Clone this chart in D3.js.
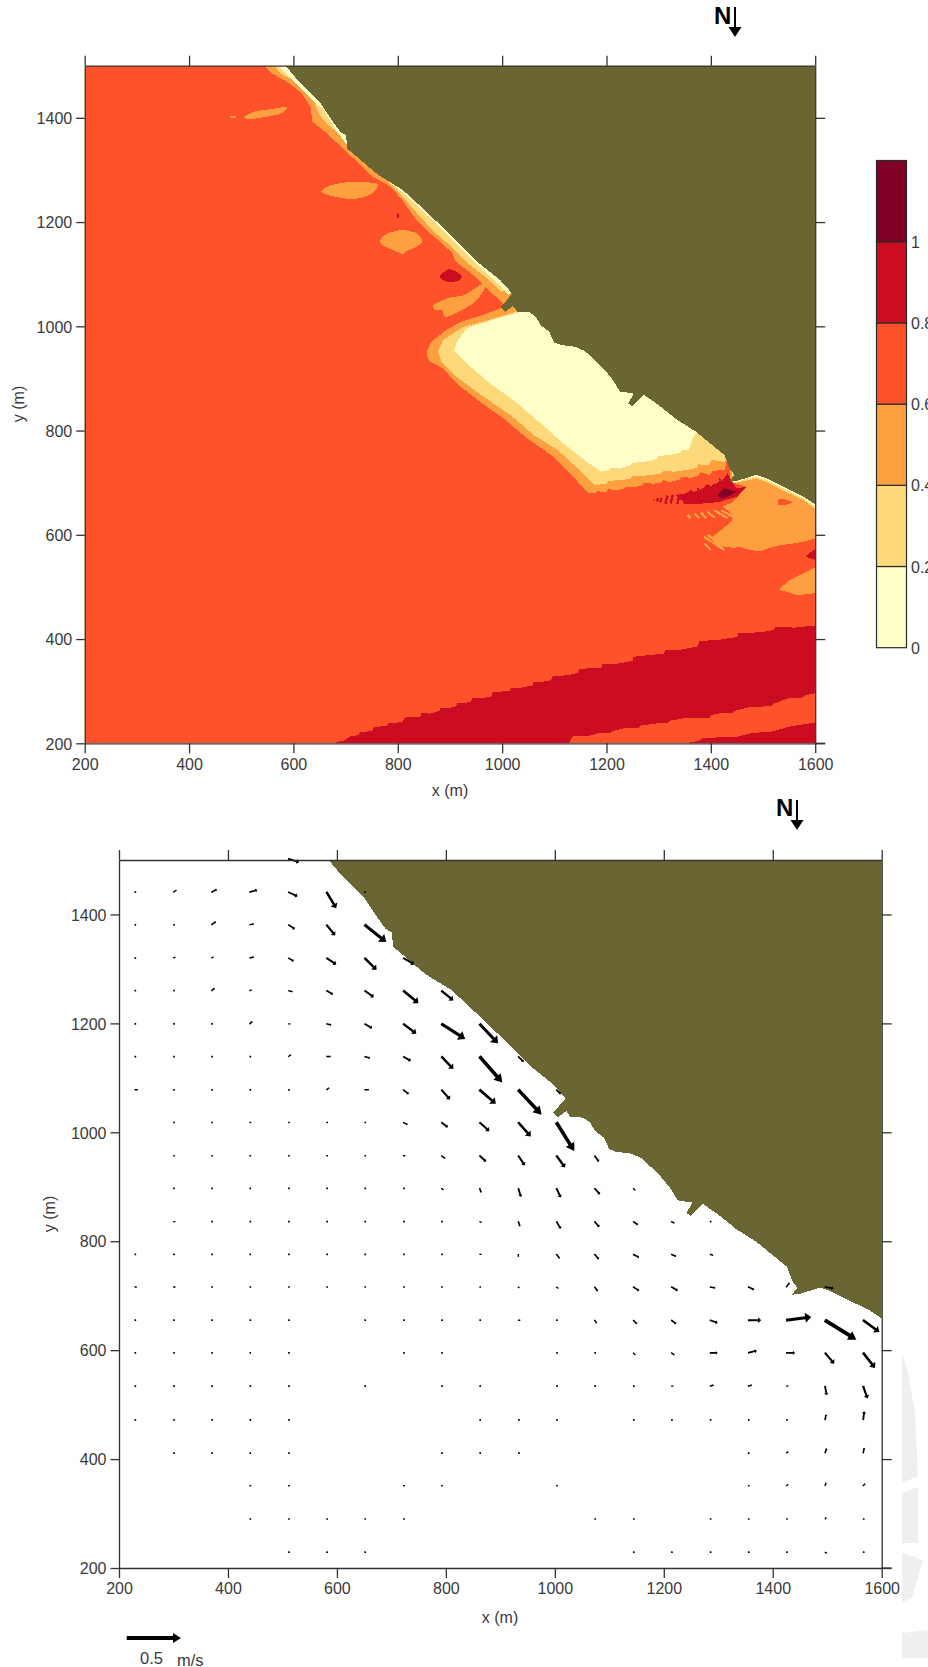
<!DOCTYPE html>
<html><head><meta charset="utf-8">
<script src="https://cdn.jsdelivr.net/npm/d3@7"></script>
<style>
html,body{margin:0;padding:0;background:#fff;overflow:hidden}
svg{display:block}
text{font-family:"Liberation Sans",Arial,sans-serif;fill:#3a3a3a}
.axis path,.axis line{stroke:#333;stroke-width:1.3}
.axis text{font-size:16px;font-family:"Liberation Sans",Arial,sans-serif;fill:#3a3a3a}
</style></head><body>
<svg id="c" width="928" height="1667"></svg>
<script>
// ---------- axis values
const xTicks=[200,400,600,800,1000,1200,1400,1600];
const yTicks=[200,400,600,800,1000,1200,1400];
const xDomain=[200,1600], yDomain=[200,1500];
// ---------- legend
const legendBreaks=[0,0.2,0.4,0.6,0.8,1,1.2];
const legendLabels=["0","0.2","0.4","0.6","0.8","1"];
const bandColors=["#FFFFC8","#FED97C","#FE9F40","#FE532A","#CC0D21","#800026"];
const landColor="#6A6633";
// ---------- coastline (x m, y m)
const land=[[585,1500],[605,1476],[627,1453],[650,1431],[673,1396],[690,1373],[701,1367],[703,1341],[729,1319],[763,1290],[809,1262],[831,1242],[865,1210],[911,1166],[956,1121],[996,1089],[1019,1063],[1018,1060],[997,1036],[1006,1028],[1021,1039],[1029,1028],[1052,1027],[1065,1018],[1074,1002],[1090,990],[1100,969],[1113,964],[1139,961],[1158,953],[1178,935],[1194,919],[1210,900],[1226,875],[1252,871],[1242,852],[1249,846],[1271,869],[1300,849],[1332,823],[1371,798],[1403,772],[1426,753],[1436,727],[1445,715],[1436,702],[1449,703],[1487,715],[1507,708],[1545,689],[1578,673],[1597,660],[1600,658],[1600,1500]];
// ---------- wave height contours
const shoreOrange=[[545,1500],[559,1485],[593,1466],[616,1447],[633,1421],[636,1393],[661,1373],[695,1341],[729,1309],[752,1287],[786,1268],[809,1242],[831,1210],[854,1185],[882,1162],[905,1140],[911,1124],[945,1098],[968,1076],[1003,1042],[1030,1080],[700,1500]];
const shoreLight=[[563,1500],[576,1485],[616,1463],[639,1434],[650,1405],[667,1386],[701,1357],[720,1345],[760,1300],[809,1249],[837,1217],[866,1185],[899,1156],[934,1121],[968,1095],[999,1066],[1030,1080],[700,1500]];
const shorePale=[[571,1500],[600,1470],[640,1430],[656,1418],[684,1373],[701,1350],[760,1300],[826,1242],[866,1204],[911,1159],[956,1114],[985,1089],[1013,1060],[1030,1080],[700,1500]];
const bayOrange=[[1000,1036],[964,1022],[922,1009],[893,993],[864,970],[855,951],[858,935],[887,919],[913,890],[958,855],[1003,823],[1048,785],[1094,753],[1139,708],[1165,680],[1180,681],[1183,685],[1190,682],[1200,683],[1204,688],[1215,685],[1232,688],[1236,692],[1255,692],[1268,695],[1272,700],[1290,698],[1305,700],[1309,705],[1320,701],[1340,706],[1344,712],[1362,709],[1376,714],[1380,720],[1398,715],[1404,723],[1426,724],[1445,800],[1100,1060],[1040,1060]];
const bayLight=[[1026,1028],[977,1013],[926,999],[887,974],[877,951],[884,932],[913,903],[964,865],[1016,830],[1061,791],[1106,763],[1152,721],[1177,695],[1200,698],[1204,703],[1223,705],[1245,707],[1249,713],[1270,713],[1287,715],[1305,717],[1309,723],[1330,721],[1352,724],[1372,728],[1376,735],[1397,734],[1402,744],[1426,740],[1460,800],[1100,1060],[1040,1060]];
const bayPale=[[1034,1027],[990,1015],[932,996],[913,970],[908,954],[932,929],[977,890],[1026,855],[1074,814],[1113,779],[1158,743],[1190,721],[1205,724],[1209,729],[1223,727],[1245,733],[1249,738],[1274,740],[1295,745],[1299,751],[1320,753],[1340,757],[1344,763],[1358,763],[1365,785],[1374,798],[1400,840],[1100,1060],[1040,1060]];
const eastOrange=[[1436,702],[1468,692],[1442,663],[1423,654],[1445,636],[1439,625],[1403,596],[1426,577],[1445,575],[1455,577],[1475,571],[1494,568],[1512,575],[1533,580],[1556,583],[1578,587],[1600,593],[1600,800],[1440,800]];
const eastLight=[[1440,698],[1487,708],[1507,701],[1545,682],[1578,666],[1600,650],[1600,800],[1440,800]];
const eastPale=[[1445,701],[1487,712],[1507,705],[1545,686],[1578,670],[1600,654],[1600,800],[1445,800]];
const orangePatchA=[[506,1402],[525,1412],[559,1417],[588,1421],[576,1408],[542,1401],[514,1397]];
const orangePatchB=[[480,1404],[490,1404],[490,1400],[480,1400]];
const orangePatchC=[[652,1258],[673,1271],[712,1277],[763,1273],[746,1252],[712,1244],[678,1249]];
const orangePatchD=[[767,1166],[780,1178],[809,1185],[837,1178],[848,1162],[831,1150],[820,1146],[809,1139],[792,1146],[769,1156]];
const orangePatchE=[[869,1041],[899,1055],[928,1060],[962,1082],[967,1073],[945,1044],[894,1018],[885,1031],[871,1031]];
const orangePatchF=[[1529,494],[1551,513],[1597,536],[1600,536],[1600,488],[1565,484],[1546,491]];
const baseSpot=[[1529,667],[1540,668],[1556,663],[1545,658],[1530,657]];
const redSpotA=[[880,1095],[899,1110],[922,1098],[916,1087],[894,1086]];
const redSpotB=[[798,1217],[802,1215],[803,1207],[799,1209]];
const redSpotC=[[1581,558],[1597,571],[1600,571],[1600,552]];
const groyneRed=[[1332,676],[1352,679],[1362,686],[1368,682],[1384,689],[1394,697],[1400,693],[1423,705],[1432,718],[1439,705],[1449,689],[1468,692],[1449,673],[1416,663],[1384,660],[1352,659]];
const groyneDark=[[1413,676],[1426,689],[1449,683],[1433,673],[1420,670]];
const redStripes=[[1290,666,1291,668],[1297,664,1299,670],[1303,662,1306,671],[1313,660,1317,675],[1323,660,1327,676],[1336,659,1340,678],[1349,660,1352,680],[1358,660,1362,686],[1372,660,1376,690],[1386,662,1392,696],[1400,664,1406,698],[1412,668,1418,708]];
const orangeStripes=[[1355,638,1361,632],[1368,641,1378,632],[1381,643,1391,632],[1394,644,1407,633],[1407,647,1432,632],[1420,647,1452,630],[1387,596,1426,571],[1394,600,1423,577],[1387,584,1400,571]];
const redBand=[[677,200],[690,204],[695,204],[709,213],[725,216],[727,221],[738,222],[752,225],[754,232],[764,232],[780,234],[782,239],[793,238],[810,242],[812,249],[825,251],[843,251],[845,258],[861,257],[880,262],[882,268],[896,267],[912,271],[914,277],[922,277],[940,279],[942,286],[961,286],[980,290],[982,298],[996,299],[1015,301],[1017,307],[1038,307],[1058,311],[1060,318],[1077,318],[1094,321],[1096,328],[1128,331],[1145,335],[1148,343],[1174,344],[1190,344],[1192,352],[1222,353],[1250,358],[1252,366],[1280,369],[1310,372],[1312,378],[1341,379],[1375,386],[1378,396],[1419,399],[1450,404],[1453,411],[1493,413],[1520,417],[1523,423],[1561,422],[1600,426],[1600,296],[1580,292],[1576,288],[1548,286],[1520,276],[1516,271],[1477,270],[1445,262],[1442,258],[1412,257],[1400,253],[1397,248],[1348,248],[1320,243],[1318,238],[1296,238],[1265,234],[1262,229],[1235,229],[1210,223],[1208,219],[1183,219],[1165,214],[1135,213],[1128,200]];
const redBandLow=[[1354,200],[1380,206],[1385,210],[1451,213],[1480,220],[1516,222],[1550,232],[1600,240],[1600,200]];
// ---------- current vectors: rows of [column index, u, v] in cm/s
const vectorColumns=[229,300,370,440,511,581,651,722,792,862,933,1003,1073,1144,1214,1285,1355,1425,1496,1566];
const d=0.5;
const vectorRowY=[1502,1441,1381,1320,1260,1199,1139,1078,1018,957,897,836,776,716,655,595,534,472,411,351,290,229];
const row1502=[[4,10,-3]];
const row1441=[[0,d,0],[1,3,2],[2,5,2.5],[3,7,2],[4,8.5,-4],[5,9,-15],[6,d,0]];
const row1381=[[0,d,0],[1,1,0],[2,4,3],[3,4,1],[4,6,-4],[5,8,-10],[6,20,-16]];
const row1320=[[0,d,0],[1,2,1],[2,2,1],[3,4,1],[4,5,-3],[5,9,-6],[6,11,-11],[7,10,-6]];
const row1260=[[0,d,0],[1,d,0],[2,3,2.5],[3,2,1],[4,4,-1],[5,6,-3.5],[6,8.5,-6],[7,14,-11.5],[8,11,-9]];
const row1199=[[0,d,0],[1,d,0],[2,d,0],[3,2.5,2.5],[4,2,0],[5,4.5,-1],[6,7,-4],[7,12,-9],[8,22,-14],[9,17,-18]];
const row1139=[[0,d,0],[1,d,0],[2,d,0],[3,d,0],[4,2.5,2],[5,4,0],[6,5,-1.5],[7,7,-4],[8,11,-11.5],[9,21,-24],[10,5,-5]];
const row1078=[[0,3,0],[1,d,0],[2,d,0],[3,d,0],[4,d,0],[5,2.5,2],[6,4,0],[7,5,-4],[8,8,-9],[9,15,-13],[10,21.5,-23],[11,4,-4]];
const row1018=[[1,d,0],[2,d,0],[3,d,0],[4,d,0],[5,d,0],[6,d,0],[7,4,-2],[8,6,-4.5],[9,9,-8],[10,11.5,-13],[11,16.5,-26.5]];
const row957=[[1,d,0],[2,d,0],[3,d,0],[4,d,0],[5,d,0],[6,d,0],[7,2,0],[8,3.5,-2.5],[9,6,-5.5],[10,6,-9],[11,8,-11],[12,4,-5.5]];
const row897=[[1,d,0],[2,d,0],[3,d,0],[4,d,0],[5,d,0],[6,d,0],[7,d,0],[8,2,-1.5],[9,1.5,-4],[10,2.5,-8],[11,4,-8.5],[12,5,-5.5],[13,2,-2]];
const row836=[[1,2,0],[2,d,0],[3,d,0],[4,d,0],[5,d,0],[6,d,0],[7,d,0],[8,d,0],[9,2,-1],[10,1.5,-4.5],[11,4,-6.5],[12,4.5,-5],[13,4.5,-3],[14,3,-1.5],[15,1,0]];
const row776=[[0,d,0],[1,1.5,0],[2,1.5,0],[3,d,0],[4,d,0],[5,d,0],[6,d,0],[7,d,0],[8,d,0],[9,2,0],[10,0,-2.5],[11,3,-4],[12,4,-4.5],[13,5.5,-3],[14,4.5,-2],[15,3,-1]];
const row716=[[0,2,0],[1,2,0],[2,d,0],[3,d,0],[4,d,0],[5,d,0],[6,d,0],[7,d,0],[8,1,0],[9,d,0],[10,1,-1],[11,2,-1.5],[12,3,-4],[13,5.5,-3.5],[14,6,-3.5],[15,5,-1],[16,5.5,-2.5],[17,3,4],[18,8,-1.5]];
const row655=[[0,d,0],[1,d,0],[2,d,0],[3,d,0],[4,d,0],[6,d,0],[7,d,0],[8,d,0],[9,d,0],[10,2,0],[11,d,0],[12,2,-3],[13,3.5,-3.5],[14,4.5,-3.5],[15,7,-2.5],[16,12,0],[17,23,3],[18,29,-18],[19,15,-11]];
const row595=[[0,d,0],[1,d,0],[2,d,0],[3,d,0],[4,d,0],[7,d,0],[8,d,0],[11,d,0],[12,1,0],[13,2,-2],[14,3,-2],[15,7,0],[16,8,2],[17,8,0],[18,8.5,-10],[19,11,-14]];
const row534=[[0,d,0],[1,d,0],[2,d,0],[3,d,0],[4,d,0],[6,d,0],[8,d,0],[9,d,0],[11,d,0],[12,d,0],[13,d,0],[14,2,0],[15,3.5,1],[16,3.5,1],[17,2,0],[18,1.5,-8.5],[19,4,-11.5]];
const row472=[[0,d,0],[1,d,0],[2,d,0],[3,d,0],[4,d,0],[9,d,0],[10,d,0],[11,d,0],[13,d,0],[14,d,0],[15,d,0],[16,d,0],[17,1,0],[18,1,5],[19,1,8]];
const row411=[[1,d,0],[2,d,0],[3,d,0],[4,d,0],[8,d,0],[9,d,0],[10,1.5,0],[16,d,0],[17,2,1.5],[18,1.5,4.5],[19,1,5]];
const row351=[[3,d,0],[4,d,0],[7,d,0],[8,d,0],[11,d,0],[16,d,0],[17,2,1.5],[18,1,3],[19,2,2]];
const row290=[[3,d,0],[4,d,0],[5,d,0],[6,d,0],[7,d,0],[12,d,0],[13,d,0],[15,d,0],[16,d,0],[17,1,0],[18,1.5,1.5],[19,1,0]];
const row229=[[4,d,0],[5,d,0],[6,1,0],[13,d,0],[14,d,0],[15,d,0],[16,d,0],[17,d,0],[18,2,-1],[19,1,0]];
const vectorRows=[row1502,row1441,row1381,row1320,row1260,row1199,row1139,row1078,row1018,row957,row897,row836,row776,row716,row655,row595,row534,row472,row411,row351,row290,row229];
const referenceSpeed=50; // cm/s

// ---------- layout
const svg=d3.select("#c");
const pageBits=svg.append("g").attr("fill","#efefef");
[[[902,1353],[908,1373],[915,1413],[918,1477],[902,1482]],[[902,1493],[918,1487],[918,1543],[902,1543]],[[902,1553],[923,1560],[912,1597],[902,1603]],[[902,1633],[928,1630],[928,1658],[902,1658]]]
 .forEach(p=>pageBits.append("path").attr("d",d3.line()(p)+"Z"));

function axes(g,x,y){
  const rx=x.range(), ry=y.range();
  const mk=(gen,tx,ty)=>g.append("g").attr("class","axis").attr("transform",`translate(${tx},${ty})`).call(gen);
  mk(d3.axisBottom(x).tickValues(xTicks).tickFormat(d3.format("d")).tickSize(10).tickSizeOuter(0).tickPadding(5),0,ry[0]);
  mk(d3.axisTop(x).tickValues(xTicks).tickFormat("").tickSize(10).tickSizeOuter(0),0,ry[1]);
  const lft=mk(d3.axisLeft(y).tickValues(yTicks).tickFormat(d3.format("d")).tickSize(8.5).tickSizeOuter(0).tickPadding(4),rx[0],0);
  mk(d3.axisRight(y).tickValues(yTicks).tickFormat("").tickSize(10).tickSizeOuter(0),rx[1],0);
  g.append("path").attr("d",`M${rx[1]},${ry[0]}h10`).attr("stroke","#333").attr("stroke-width",1.3);
  lft.selectAll("text").attr("dy","0.36em");
}
function northArrow(g,nx,ny,ax,ay){
  g.append("text").attr("x",nx).attr("y",ny).attr("font-size",24).attr("font-weight",700).style("fill","#000").text("N");
  g.append("line").attr("x1",ax).attr("x2",ax).attr("y1",ay).attr("y2",ay+22).attr("stroke","#000").attr("stroke-width",2);
  g.append("path").attr("d",`M${ax-6.5},${ay+20}H${ax+6.5}L${ax},${ay+30}Z`).attr("fill","#000");
}

// ---------- top panel
const x1=d3.scaleLinear().domain(xDomain).range([84.7,815.2]);
const y1=d3.scaleLinear().domain(yDomain).range([743.3,65.7]);
const panelA=svg.append("g");
const line1=d3.line().x(p=>x1(p[0])).y(p=>y1(p[1]));
const blob1=d3.line().x(p=>x1(p[0])).y(p=>y1(p[1])).curve(d3.curveCardinalClosed.tension(0.3));
svg.append("clipPath").attr("id","clip1").append("rect").attr("x",84.7).attr("y",65.7).attr("width",730.5).attr("height",677.6);
const field=panelA.append("g").attr("clip-path","url(#clip1)").attr("shape-rendering","crispEdges");
field.append("rect").attr("x",x1(200)).attr("y",y1(1500)).attr("width",x1(1600)-x1(200)).attr("height",y1(200)-y1(1500)).attr("fill",bandColors[3]);
const drawPoly=(pts,c)=>field.append("path").attr("d",line1(pts)+"Z").attr("fill",c);
const drawBlob=(pts,c)=>field.append("path").attr("d",blob1(pts)).attr("fill",c);
[[redBand,4],[redBandLow,4],[orangePatchF,2],[redSpotC,4]].forEach(([p,i])=>drawPoly(p,bandColors[i]));
[[orangePatchA,2],[orangePatchB,2],[orangePatchC,2],[orangePatchD,2],[orangePatchE,2],[redSpotA,4],[redSpotB,4]].forEach(([p,i])=>drawBlob(p,bandColors[i]));
[[eastOrange,2]].forEach(([p,i])=>drawPoly(p,bandColors[i]));
drawBlob(baseSpot,bandColors[3]);
[[eastLight,1],[eastPale,0],[shoreOrange,2],[shoreLight,1],[shorePale,0],[bayOrange,2],[bayLight,1],[bayPale,0],[groyneRed,4]].forEach(([p,i])=>drawPoly(p,bandColors[i]));
redStripes.forEach(s=>field.append("line").attr("x1",x1(s[0])).attr("y1",y1(s[1])).attr("x2",x1(s[2])).attr("y2",y1(s[3])).attr("stroke",bandColors[4]).attr("stroke-width",2.4));
orangeStripes.forEach(s=>field.append("line").attr("x1",x1(s[0])).attr("y1",y1(s[1])).attr("x2",x1(s[2])).attr("y2",y1(s[3])).attr("stroke",bandColors[2]).attr("stroke-width",2.4));
drawPoly(groyneDark,bandColors[5]);
drawPoly(land,landColor);
axes(panelA,x1,y1);
panelA.append("text").attr("x",450).attr("y",796).attr("text-anchor","middle").attr("font-size",16).text("x (m)");
panelA.append("text").attr("transform","translate(24,404) rotate(-90)").attr("text-anchor","middle").attr("font-size",16).text("y (m)");
northArrow(panelA,714,24,735,7);

// ---------- legend
const yL=d3.scaleLinear().domain([0,1.2]).range([647.7,160.5]);
const lg=svg.append("g");
bandColors.forEach((c,i)=>lg.append("rect").attr("x",876.5).attr("width",30).attr("y",yL(legendBreaks[i+1])).attr("height",yL(legendBreaks[i])-yL(legendBreaks[i+1])).attr("fill",c).attr("stroke","#2a2a2a").attr("stroke-width",1.2));
legendLabels.forEach((t,i)=>lg.append("text").attr("x",911).attr("y",yL(legendBreaks[i])+6).attr("font-size",16).text(t));

// ---------- bottom panel
const x2=d3.scaleLinear().domain(xDomain).range([119,881.7]);
const y2=d3.scaleLinear().domain(yDomain).range([1568,860]);
const panelB=svg.append("g");
const line2=d3.line().x(p=>x2(p[0])).y(p=>y2(p[1]));
svg.append("clipPath").attr("id","clip2").append("rect").attr("x",119).attr("y",860).attr("width",762.7).attr("height",708);
panelB.append("path").attr("clip-path","url(#clip2)").attr("shape-rendering","crispEdges").attr("d",line2(land)+"Z").attr("fill",landColor);
const len=d3.scaleLinear().domain([0,referenceSpeed]).range([0,54]);
function arrowPath(x0,y0,dx,dy){
  const L=Math.hypot(dx,dy)||1, ux=dx/L, uy=dy/L, nx=-uy, ny=ux;
  const w=L<2?0.85:Math.min(2,0.6+L*0.035), hl=Math.min(8,L*0.24), hw=Math.min(5,L*0.14+w);
  const P=(a,b)=>`${(x0+ux*a+nx*b).toFixed(2)},${(y0+uy*a+ny*b).toFixed(2)}`;
  return `M${P(-0.3,-w)}L${P(L-hl,-w)}L${P(L-hl,-hw)}L${P(L,0)}L${P(L-hl,hw)}L${P(L-hl,w)}L${P(-0.3,w)}Z`;
}
const vecs=panelB.append("g").attr("fill","#000");
vectorRows.forEach((row,r)=>row.forEach(([c,u,v])=>{
  const dx=len(u), dy=-len(v);
  const m=Math.hypot(dx,dy);
  const k=m<1.5?1.5/m:1;
  vecs.append("path").attr("d",arrowPath(x2(vectorColumns[c]),y2(vectorRowY[r]),dx*k,dy*k));
}));
axes(panelB,x2,y2);
panelB.append("text").attr("x",500).attr("y",1622.5).attr("text-anchor","middle").attr("font-size",16).text("x (m)");
panelB.append("text").attr("transform","translate(55,1214) rotate(-90)").attr("text-anchor","middle").attr("font-size",16).text("y (m)");
northArrow(panelB,776,816,797,800);
panelB.append("path").attr("d",arrowPath(127,1638,len(referenceSpeed),0)).attr("fill","#000");
panelB.append("text").attr("x",140).attr("y",1664).attr("font-size",16.5).text("0.5");
panelB.append("text").attr("x",177).attr("y",1666).attr("font-size",16.5).text("m/s");
</script>
</body></html>
